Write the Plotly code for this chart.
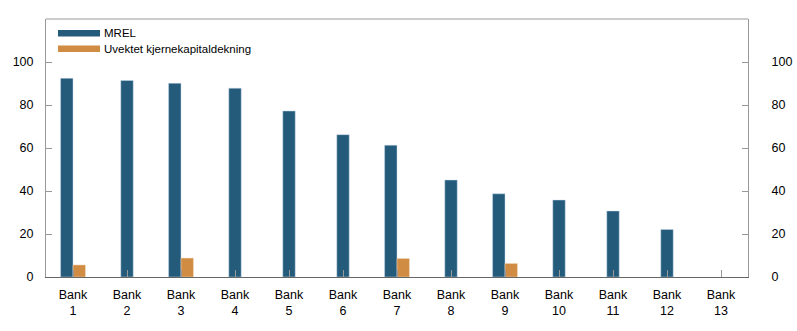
import plotly.graph_objects as go

categories = [f"Bank {i}" for i in range(1, 14)]
tick_labels = [f"Bank<br>{i}" for i in range(1, 14)]
mrel = [92.4, 91.4, 90.1, 87.8, 77.2, 66.2, 61.3, 45.1, 38.7, 35.8, 30.7, 22.1, None]
uvektet = [5.6, None, 8.8, None, None, None, 8.6, None, 6.3, None, None, None, None]
series_names = ["MREL", "Uvektet kjernekapitaldekning"]

BLUE = "#245a7a"
ORANGE = "#d08c42"
colors = [BLUE, ORANGE]
FONT = "Liberation Sans, Arial, sans-serif"
W = 0.23

mrel_offset = [-W if u is not None else -W / 2 for u in uvektet]
orange_offset = [0 for _ in uvektet]

fig = go.Figure()
fig.add_trace(go.Bar(x=categories, y=mrel, width=W, offset=mrel_offset,
                     marker=dict(color=BLUE, line=dict(color="rgba(200,220,235,0.8)", width=0.6)),
                     showlegend=False, name=series_names[0]))
fig.add_trace(go.Bar(x=categories, y=uvektet, width=W, offset=orange_offset,
                     marker=dict(color=ORANGE, line=dict(color="rgba(245,220,190,0.8)", width=0.6)),
                     showlegend=False, name=series_names[1]))
# right axis copy
fig.add_trace(go.Scatter(x=[categories[0]], y=[None], yaxis="y2", showlegend=False, hoverinfo="skip"))

# custom legend (layout decoration)
PW, PH = 702.0, 258.0
shapes = [dict(type="line", xref="paper", yref="paper", x0=0, x1=1, y0=1, y1=1,
               line=dict(color="#999", width=1))]
annotations = []
for i, (name, col) in enumerate(zip(series_names, colors)):
    yc = 1 - (14.3 + 15.5 * i) / PH
    shapes.append(dict(type="rect", xref="paper", yref="paper",
                       x0=12 / PW, x1=54 / PW, y0=yc - 3.2 / PH, y1=yc + 3.2 / PH,
                       fillcolor=col, line=dict(width=0)))
    annotations.append(dict(xref="paper", yref="paper", x=56 / PW, y=yc, xanchor="left",
                            yanchor="middle", text=name, showarrow=False,
                            font=dict(size=11.5, family=FONT, color="#000")))

fig.update_layout(
    width=797, height=331,
    margin=dict(l=46, r=49, t=19, b=54),
    paper_bgcolor="white", plot_bgcolor="white",
    font=dict(family=FONT, size=12.5, color="#000"),
    barmode="overlay",
    showlegend=False,
    xaxis=dict(type="category", categoryarray=categories, tickvals=categories, ticktext=tick_labels,
               range=[-0.5, 12.5], showline=True, linecolor="#666", linewidth=1.2,
               ticks="inside", ticklen=7, tickcolor="#999", showgrid=False, zeroline=False,
               ticklabelstandoff=6, automargin=False),
    yaxis=dict(range=[0, 120], tickvals=[0, 20, 40, 60, 80, 100], ticks="inside", ticklen=6,
               tickcolor="#999", showline=True, linecolor="#999", linewidth=1, showgrid=False,
               zeroline=False, ticklabelstandoff=9, automargin=False),
    yaxis2=dict(range=[0, 120], tickvals=[0, 20, 40, 60, 80, 100], overlaying="y", side="right",
                ticks="inside", ticklen=6, tickcolor="#999", showline=True, linecolor="#999",
                linewidth=1, showgrid=False, zeroline=False, ticklabelstandoff=20, automargin=False),
    shapes=shapes,
    annotations=annotations,
)

fig.write_html("out.html")
